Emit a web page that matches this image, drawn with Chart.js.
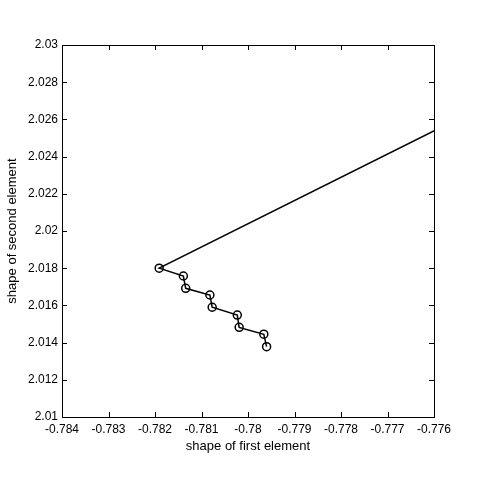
<!DOCTYPE html>
<html>
<head>
<meta charset="utf-8">
<script src="https://cdn.jsdelivr.net/npm/chart.js@4/dist/chart.umd.min.js"></script>
<style>
  html, body { margin: 0; padding: 0; background: #fff; }
  #wrap { width: 480px; height: 480px; }
</style>
</head>
<body>
<div id="wrap"><canvas id="stage"></canvas></div>
<script>
// shape path (first point is off to the upper right, outside the axes)
let shapeX = [-0.7750, -0.78191, -0.78139, -0.78134, -0.78082, -0.78077, -0.78023, -0.78019, -0.77966, -0.77960];
let shapeY = [2.02663, 2.01800, 2.01758, 2.01692, 2.01656, 2.01590, 2.01548, 2.01482, 2.01445, 2.01378];

let xRange = [-0.784, -0.776];
let yRange = [2.01, 2.03];

let pts = shapeX.map(function (x, i) { return { x: x, y: shapeY[i] }; });

function fmt(v) {
  return parseFloat(v.toFixed(3)).toString();
}

// matlab-like box with inward ticks
let boxTicks = {
  id: 'boxTicks',
  afterDraw: function (chart) {
    let ctx = chart.ctx;
    let a = chart.chartArea;
    let len = 5;
    ctx.save();
    ctx.strokeStyle = '#000';
    ctx.lineWidth = 1;
    ctx.beginPath();
    chart.scales.x.ticks.forEach(function (t) {
      let px = Math.round(chart.scales.x.getPixelForValue(t.value)) + 0.5;
      ctx.moveTo(px, a.bottom); ctx.lineTo(px, a.bottom - len);
      ctx.moveTo(px, a.top); ctx.lineTo(px, a.top + len);
    });
    chart.scales.y.ticks.forEach(function (t) {
      let py = Math.round(chart.scales.y.getPixelForValue(t.value)) + 0.5;
      ctx.moveTo(a.left, py); ctx.lineTo(a.left + len, py);
      ctx.moveTo(a.right, py); ctx.lineTo(a.right - len, py);
    });
    ctx.stroke();
    ctx.strokeRect(Math.round(a.left) + 0.5, Math.round(a.top) + 0.5,
      Math.round(a.right - a.left), Math.round(a.bottom - a.top));
    ctx.restore();
  }
};

let font = { family: 'Liberation Sans, Arial, sans-serif', size: 12 };
let titleFont = { family: 'Liberation Sans, Arial, sans-serif', size: 13 };

var chart = new Chart(document.getElementById('stage'), {
  type: 'scatter',
  data: {
    datasets: [{
      data: pts,
      showLine: true,
      borderColor: '#000',
      borderWidth: 1.5,
      pointRadius: 4,
      pointBorderWidth: 1.5,
      pointBorderColor: '#000',
      pointBackgroundColor: 'rgba(0,0,0,0)',
      pointHoverRadius: 4
    }]
  },
  options: {
    responsive: true,
    maintainAspectRatio: false,
    animation: false,
    events: [],
    layout: { padding: { left: 0, top: 45, right: 46, bottom: 23 } },
    plugins: {
      legend: { display: false },
      tooltip: { enabled: false }
    },
    scales: {
      x: {
        type: 'linear',
        min: xRange[0],
        max: xRange[1],
        afterFit: function (s) { s.height = 40; },
        grid: { display: false, drawTicks: false },
        border: { display: false },
        ticks: {
          stepSize: 0.001,
          color: '#000',
          font: font,
          padding: 5,
          maxRotation: 0,
          autoSkip: false,
          callback: function (v) { return fmt(v); }
        },
        title: {
          display: true,
          text: 'shape of first element',
          color: '#000',
          font: titleFont,
          padding: { top: 0, bottom: 3 }
        }
      },
      y: {
        type: 'linear',
        min: yRange[0],
        max: yRange[1],
        afterFit: function (s) { s.width = 62; },
        grid: { display: false, drawTicks: false },
        border: { display: false },
        ticks: {
          stepSize: 0.002,
          color: '#000',
          font: font,
          padding: 4,
          autoSkip: false,
          callback: function (v) { return fmt(v); }
        },
        title: {
          display: true,
          text: 'shape of second element',
          color: '#000',
          font: titleFont,
          padding: { top: 5, bottom: 0 }
        }
      }
    }
  },
  plugins: [boxTicks]
});
</script>
</body>
</html>
